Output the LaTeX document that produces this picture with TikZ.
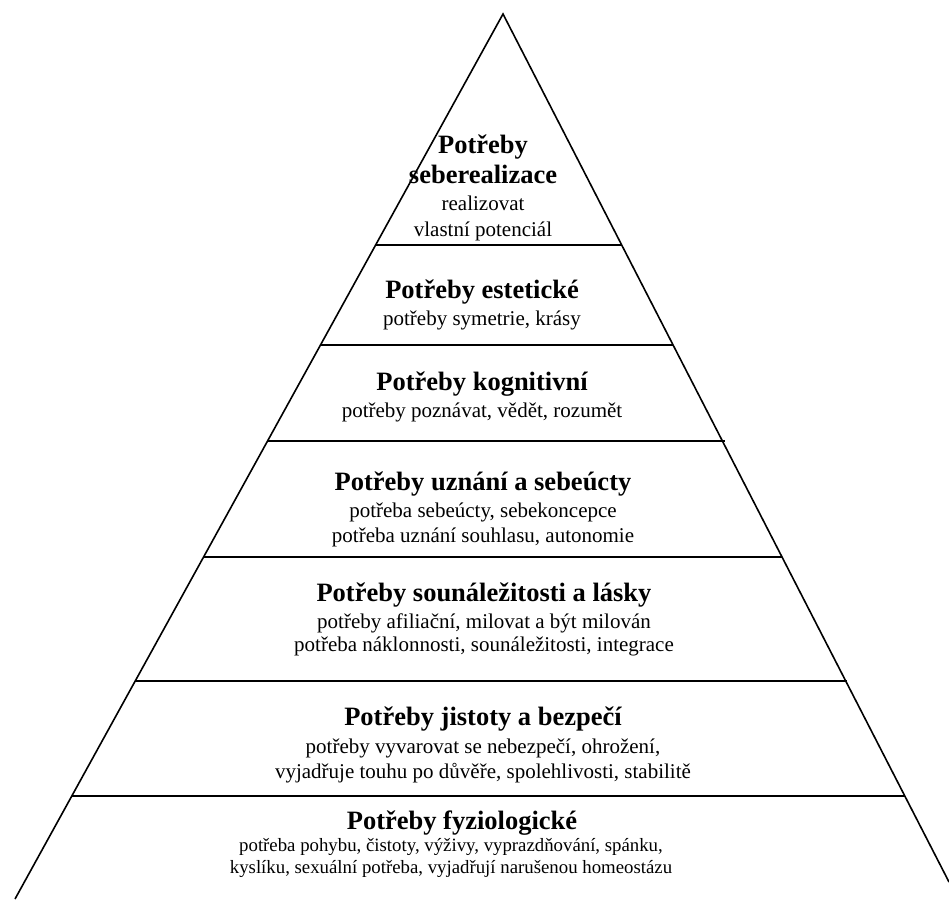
\documentclass[tikz,border=0pt]{standalone}
\usepackage{fontspec}
\setmainfont{Liberation Serif}
\tikzset{
  edge/.style={line width=1.6pt, black},
  head/.style={font=\fontsize{26.5}{30}\selectfont\bfseries, inner sep=0pt, text height=0.68em, text depth=0.2em},
  desc/.style={font=\fontsize{21}{24}\selectfont, inner sep=0pt, text height=0.68em, text depth=0.2em},
  descsmall/.style={desc, font=\fontsize{18.8}{22}\selectfont}
}
\begin{document}
\begin{tikzpicture}[x=1pt,y=-1pt]
\useasboundingbox (0,0) rectangle (949,900);
\coordinate (A) at (503,14);
\coordinate (BL) at (15,899);
\coordinate (BR) at (949,882);
\draw[edge] (BL) -- (A) -- (BR);
\draw[edge] (375.6,245) -- (621.7,245);
\draw[edge] (320.5,345) -- (673.1,345);
\draw[edge] (267.6,441) -- (725,441);
\draw[edge] (203.6,557) -- (782,557);
\draw[edge] (135.2,681) -- (846.5,681);
\draw[edge] (71.8,796) -- (904.8,796);

\node[head] (h1a) at (483,151) {Potřeby};
\node[head] (h1b) at (483,181) {seberealizace};
\node[desc] (d1a) at (483,208) {realizovat};
\node[desc] (d1b) at (483,234) {vlastní potenciál};

\node[head] (h2) at (482,296) {Potřeby estetické};
\node[desc] (d2a) at (482,323) {potřeby symetrie, krásy};

\node[head] (h3) at (482,388) {Potřeby kognitivní};
\node[desc] (d3a) at (482,415) {potřeby poznávat, vědět, rozumět};

\node[head] (h4) at (483,488) {Potřeby uznání a sebeúcty};
\node[desc] (d4a) at (483,515) {potřeba sebeúcty, sebekoncepce};
\node[desc] (d4b) at (483,540) {potřeba uznání souhlasu, autonomie};

\node[head] (h5) at (484,599) {Potřeby sounáležitosti a lásky};
\node[desc] (d5a) at (484,626) {potřeby afiliační, milovat a být milován};
\node[desc] (d5b) at (484,649) {potřeba náklonnosti, sounáležitosti, integrace};

\node[head] (h6) at (483,723) {Potřeby jistoty a bezpečí};
\node[desc] (d6a) at (483,751) {potřeby vyvarovat se nebezpečí, ohrožení,};
\node[desc] (d6b) at (483,776) {vyjadřuje touhu po důvěře, spolehlivosti, stabilitě};

\node[head] (h7) at (462,827) {Potřeby fyziologické};
\node[descsmall] (d7a) at (451,849) {potřeba pohybu, čistoty, výživy, vyprazdňování, spánku,};
\node[descsmall] (d7b) at (451,871) {kyslíku, sexuální potřeba, vyjadřují narušenou homeostázu};
\end{tikzpicture}
\end{document}
